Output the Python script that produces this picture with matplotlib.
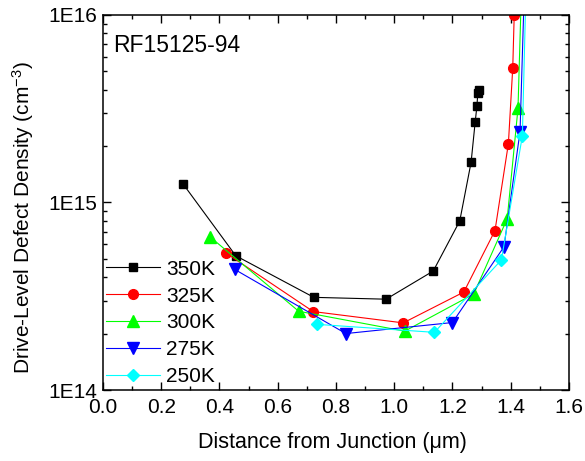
import matplotlib
matplotlib.use("Agg")
import matplotlib.pyplot as plt
from matplotlib.ticker import FixedLocator, FuncFormatter, LogLocator, MultipleLocator, NullFormatter
import numpy as np

plt.rcParams["font.family"] = ["Liberation Sans", "DejaVu Sans"]
plt.rcParams["mathtext.fontset"] = "custom"
plt.rcParams["mathtext.rm"] = "Liberation Sans"
plt.rcParams["mathtext.it"] = "Liberation Sans"

# drive-level defect density profiles, one per temperature
x_350 = [0.276, 0.456, 0.724, 0.972, 1.134, 1.225, 1.264, 1.278, 1.284, 1.287, 1.290]
y_350 = [1.25e15, 5.2e14, 3.12e14, 3.05e14, 4.31e14, 7.97e14, 1.64e15, 2.69e15, 3.27e15, 3.85e15, 4.0e15]

x_325 = [0.422, 0.722, 1.031, 1.239, 1.346, 1.392, 1.407, 1.412]
y_325 = [5.38e14, 2.62e14, 2.28e14, 3.33e14, 7.08e14, 2.06e15, 5.24e15, 1.0e16]

x_300 = [0.367, 0.672, 1.036, 1.273, 1.388, 1.425, 1.440]
y_300 = [6.57e14, 2.63e14, 2.06e14, 3.25e14, 8.2e14, 3.18e15, 2.0e16]

x_275 = [0.452, 0.834, 1.200, 1.377, 1.432, 1.450]
y_275 = [4.4e14, 2.0e14, 2.29e14, 5.81e14, 2.39e15, 2.0e16]

x_250 = [0.734, 1.138, 1.368, 1.440, 1.455]
y_250 = [2.24e14, 2.03e14, 4.94e14, 2.27e15, 2.0e16]

labels = ["350K", "325K", "300K", "275K", "250K"]
sample_id = "RF15125-94"

series = [
    (x_350, y_350, "#000000", "s", 6),
    (x_325, y_325, "#ff0000", "o", 7),
    (x_300, y_300, "#00ff00", "^", 8),
    (x_275, y_275, "#0000ff", "v", 8),
    (x_250, y_250, "#00ffff", "D", 6.5),
]

fig = plt.figure(figsize=(5.85, 4.61), dpi=100)
ax = fig.add_axes([0.176, 0.154, 0.7966, 0.8135])

for (xs, ys, color, marker, ms), label in zip(series, labels):
    ax.plot(xs, ys, color=color, marker=marker, markersize=ms, linewidth=0.8,
            markeredgecolor=color, markerfacecolor=color, label=label)

ax.set_yscale("log")
ax.set_xlim(0.0, 1.6)
ax.set_ylim(1e14, 1e16)

ax.xaxis.set_major_locator(MultipleLocator(0.2))
ax.xaxis.set_minor_locator(MultipleLocator(0.1))
ax.xaxis.set_major_formatter(FuncFormatter(lambda v, p: f"{v:.1f}"))
ax.yaxis.set_major_locator(FixedLocator([1e14, 1e15, 1e16]))
ax.yaxis.set_minor_locator(LogLocator(base=10, subs=np.arange(2, 10)))
ax.yaxis.set_major_formatter(FuncFormatter(lambda v, p: f"1E{int(round(np.log10(v)))}"))
ax.yaxis.set_minor_formatter(NullFormatter())

ax.tick_params(which="both", direction="in", top=True, right=True, labelsize=15, width=1.0)
ax.tick_params(which="major", length=5.5)
ax.tick_params(which="minor", length=3)
ax.tick_params(axis="x", which="major", pad=6)
ax.tick_params(axis="y", which="major", pad=4)
for sp in ax.spines.values():
    sp.set_linewidth(1.1)

ax.set_xlabel("Distance from Junction (\u03bcm)", fontsize=15.5)
ax.set_ylabel("Drive-Level Defect Density (cm$^{-3}$)", fontsize=15)
ax.xaxis.set_label_coords(0.492, -0.112)
ax.yaxis.set_label_coords(-0.143, 0.46)

ax.text(0.022, 0.95, sample_id, transform=ax.transAxes, fontsize=16.5, va="top", ha="left")

ax.legend(loc="lower left", bbox_to_anchor=(0.006, 0.01), frameon=False, fontsize=15,
          handlelength=2.6, handletextpad=0.3, labelspacing=0.38, borderpad=0, borderaxespad=0)

fig.savefig("out.png", dpi=100)
